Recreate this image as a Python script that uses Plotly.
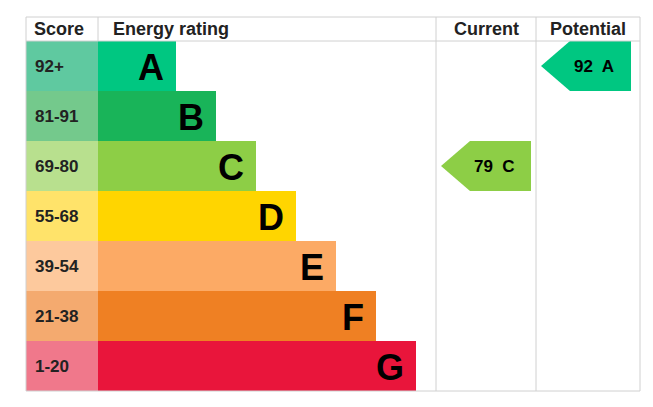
import plotly.graph_objects as go

# data
bands = ["A", "B", "C", "D", "E", "F", "G"]
scores = ["92+", "81-91", "69-80", "55-68", "39-54", "21-38", "1-20"]
bar_colors = ["#00c781", "#19b459", "#8dce46", "#ffd500", "#fcaa65", "#ef8023", "#e9153b"]
cell_colors = ["#5fc9a0", "#74c98c", "#b8e08e", "#ffe36a", "#fdc99d", "#f4aa6f", "#f0788b"]
bar_lengths = [78, 118, 158, 198, 238, 278, 318]
current = (79, "C")
potential = (92, "A")

left, score_w, top, head_h, row_h = 26, 72, 17, 24, 50
cur_x, pot_x, right = 436, 536, 640
bar_x0 = left + score_w
row_y = [top + head_h + row_h * (i + 0.5) for i in range(len(bands))]

fig = go.Figure()
fig.add_trace(go.Bar(y=row_y, x=[score_w] * 7, base=left, orientation="h", width=row_h,
                     marker=dict(color=cell_colors, line_width=0), hoverinfo="skip"))
fig.add_trace(go.Bar(y=row_y, x=bar_lengths, base=bar_x0, orientation="h", width=row_h,
                     marker=dict(color=bar_colors, line_width=0), hoverinfo="skip"))

for i, b in enumerate(bands):
    fig.add_annotation(x=bar_x0 + bar_lengths[i] - 10, y=row_y[i] + 1, text=f"<b>{b}</b>", showarrow=False,
                       xanchor="right", font=dict(size=36, color="black", family="Arial"))
    fig.add_annotation(x=left + 7, y=row_y[i], text=f"<b>{scores[i]}</b>", showarrow=False,
                       xanchor="left", font=dict(size=17, color="#222", family="Arial"))

def arrow(val, band, x0):
    i = bands.index(band)
    yc = row_y[i]
    t, bt = yc - row_h / 2, yc + row_h / 2
    xs = [x0 + 5, x0 + 34, x0 + 95, x0 + 95, x0 + 34, x0 + 5]
    ys = [yc, t, t, bt, bt, yc]
    fig.add_trace(go.Scatter(x=xs, y=ys, fill="toself", fillcolor=bar_colors[i], mode="lines",
                             line=dict(width=0), hoverinfo="skip"))
    fig.add_annotation(x=x0 + 58, y=yc, text=f"<b>{val}  {band}</b>", showarrow=False,
                       font=dict(size=17, color="#222" if False else "black", family="Arial"))

arrow(*current, cur_x)
arrow(*potential, pot_x)

bottom = top + head_h + row_h * 7
grid = dict(color="#d0d0d0", width=1)
fig.add_shape(type="rect", x0=left, x1=right, y0=top, y1=bottom, line=grid)
fig.add_shape(type="line", x0=left, x1=right, y0=top + head_h, y1=top + head_h, line=grid)
for xv, y1 in [(bar_x0, top + head_h), (cur_x, bottom), (pot_x, bottom)]:
    fig.add_shape(type="line", x0=xv, x1=xv, y0=top, y1=y1, line=grid)

hy = top + head_h / 2
for xv, txt, anc in [(left + 6, "Score", "left"), (bar_x0 + 13, "Energy rating", "left"),
                     ((cur_x + pot_x) / 2, "Current", "center"), ((pot_x + right) / 2, "Potential", "center")]:
    fig.add_annotation(x=xv, y=hy, text=f"<b>{txt}</b>", showarrow=False, xanchor=anc,
                       font=dict(size=18, color="#222", family="Arial"))

# page body has an 8px margin, so shift the axis window to compensate
fig.update_layout(width=653, height=407, margin=dict(l=0, r=0, t=0, b=0), showlegend=False,
                  plot_bgcolor="white", paper_bgcolor="white", barmode="overlay",
                  xaxis=dict(range=[8, 661], visible=False, fixedrange=True),
                  yaxis=dict(range=[415, 8], visible=False, fixedrange=True))
fig.write_html("out.html")
